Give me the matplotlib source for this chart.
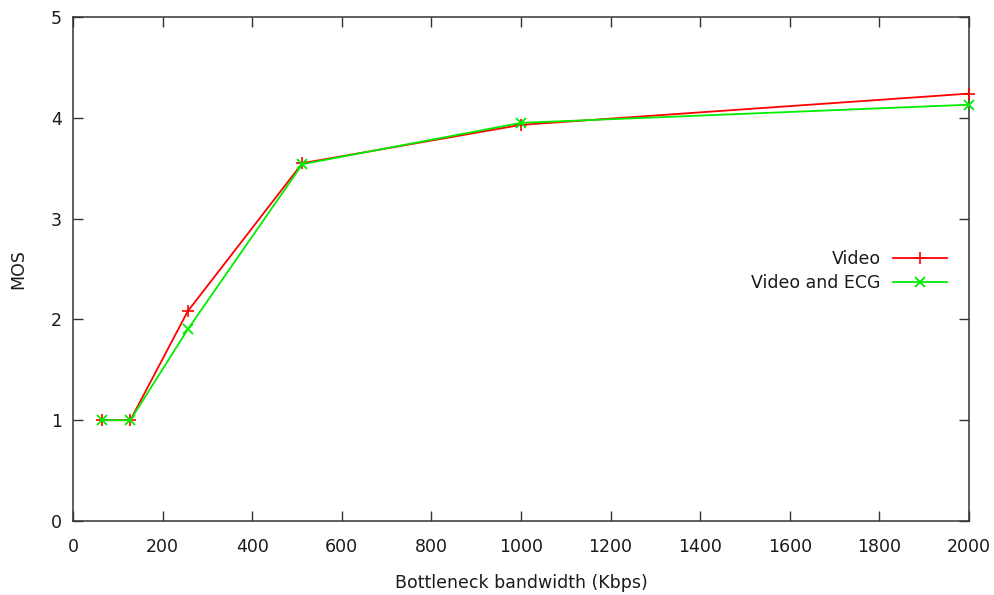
import matplotlib
matplotlib.use("Agg")
import matplotlib.pyplot as plt

bandwidth = [64, 128, 256, 512, 1000, 2000]
mos_video = [1.0, 1.0, 2.08, 3.55, 3.93, 4.24]
mos_video_ecg = [1.0, 1.0, 1.90, 3.54, 3.95, 4.13]
x_ticks = [0, 200, 400, 600, 800, 1000, 1200, 1400, 1600, 1800, 2000]
y_ticks = [0, 1, 2, 3, 4, 5]

plt.rcParams['font.family'] = ['DejaVu Sans']
fs = 12.5
txt = '#1a1a1a'

fig = plt.figure(figsize=(9.95, 5.95), dpi=100)
ax = fig.add_axes([73/995, 1-521/595, 896/995, 504/595])

ax.plot(bandwidth, mos_video, color='#ff0000', lw=1.3, marker='+', ms=8, mew=1.2,
        label='Video', clip_on=False, zorder=3)
ax.plot(bandwidth, mos_video_ecg, color='#00ee00', lw=1.3, marker='x', ms=6.5, mew=1.3,
        label='Video and ECG', clip_on=False, zorder=4)

ax.set_xlim(0, 2000)
ax.set_ylim(0, 5)
ax.set_xticks(x_ticks)
ax.set_yticks(y_ticks)
ax.tick_params(direction='in', length=7, width=1.0, color='#333333',
               top=True, right=True, labelsize=fs, labelcolor=txt)
ax.tick_params(axis='x', pad=12.5)
ax.tick_params(axis='y', pad=8)
for s in ax.spines.values():
    s.set_linewidth(1.1)
    s.set_color('#333333')

ax.set_xlabel('Bottleneck bandwidth (Kbps)', fontsize=fs, color=txt, labelpad=13)
ax.set_ylabel('MOS', fontsize=fs, color=txt, labelpad=17)

ax.legend(loc='center right', bbox_to_anchor=(0.975, 0.496), frameon=False,
          markerfirst=False, fontsize=fs, handlelength=3.1, handletextpad=0.7,
          labelspacing=0.36, borderpad=0, borderaxespad=0, labelcolor=txt)

fig.savefig('out.png', dpi=100)
